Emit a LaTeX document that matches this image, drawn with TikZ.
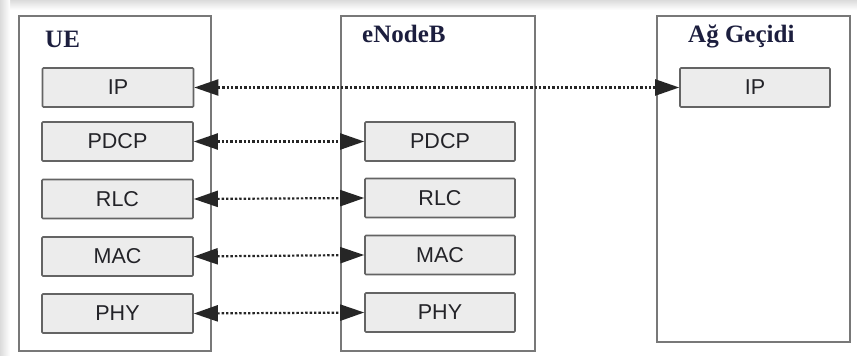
\documentclass[tikz,border=0pt]{standalone}
\usepackage{fontspec}
\setmainfont{Liberation Serif}
\newfontfamily\boxfont{Liberation Sans}
\usetikzlibrary{arrows.meta}
\definecolor{framegray}{RGB}{120,120,120}
\definecolor{layerfill}{RGB}{236,236,236}
\definecolor{layerline}{RGB}{100,100,100}
\definecolor{layertext}{RGB}{35,35,40}
\definecolor{titlecol}{RGB}{28,30,62}
\tikzset{
  entity/.style={draw=framegray, line width=1.9pt},
  layer/.style={draw=layerline, fill=layerfill, line width=1.6pt,
    rounded corners=1pt, minimum width=151pt, minimum height=39pt,
    inner sep=0pt, font=\boxfont\fontsize{21.5}{21.5}\selectfont, text=layertext},
  title/.style={anchor=base west, inner sep=0pt, text=titlecol,
    font=\bfseries\fontsize{25}{25}\selectfont},
  peer/.style={line width=2.2pt, dash pattern=on 2.4pt off 2pt, draw=black!85,
    {Triangle[length=24pt,width=16pt]}-{Triangle[length=24pt,width=16pt]}},
}
\begin{document}
\begin{tikzpicture}[x=1pt,y=-1pt]
\useasboundingbox (0,0) rectangle (857,356);
% soft drop shadow along the top and left edges
\shade[top color=black!14, bottom color=white] (0,0) rectangle (857,10);
\shade[left color=black!14, right color=white] (0,0) rectangle (10,356);
\fill[white] (10,10) rectangle (857,356);

% protocol entities
\draw[entity] (19,16) rectangle (211,351);
\draw[entity] (341,16) rectangle (535,351);
\draw[entity] (657,16) rectangle (850,342);
\node[title] (ue) at (45,47.5) {UE};
\node[title] (enb) at (362,42) {eNodeB};
\node[title] (gw) at (688,42) {Ağ Geçidi};

% protocol layers
\node[layer] (ueip)   at (118,87.5) {IP};
\node[layer] (uepdcp) at (117.5,141.5) {PDCP};
\node[layer] (uerlc)  at (117.5,199) {RLC};
\node[layer] (uemac)  at (117.5,256.5) {MAC};
\node[layer] (uephy)  at (117.5,313.5) {PHY};

\node[layer, minimum width=150pt] (enbpdcp) at (440,141.5) {PDCP};
\node[layer, minimum width=150pt] (enbrlc)  at (440,198) {RLC};
\node[layer, minimum width=150pt] (enbmac)  at (440,255) {MAC};
\node[layer, minimum width=150pt] (enbphy)  at (440,312.5) {PHY};

\node[layer, minimum width=150pt] (gwip) at (755,87.5) {IP};

% peer-to-peer links
\draw[peer] (ueip.east) -- (gwip.west);
\draw[peer] (uepdcp.east) -- (enbpdcp.west);
\draw[peer] (uerlc.east) -- (enbrlc.west);
\draw[peer] (uemac.east) -- (enbmac.west);
\draw[peer] (uephy.east) -- (enbphy.west);
\end{tikzpicture}
\end{document}
